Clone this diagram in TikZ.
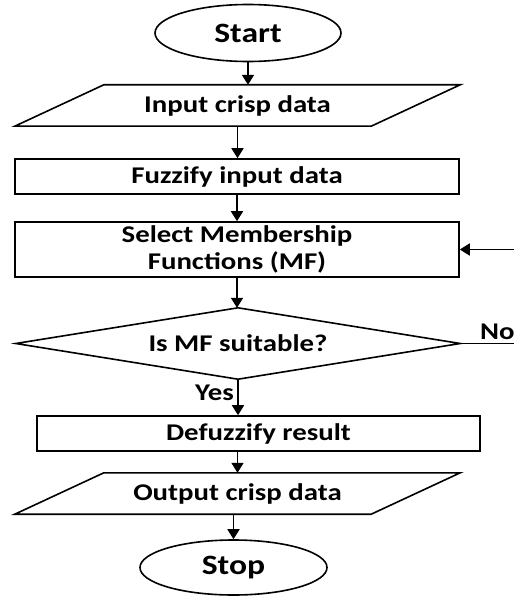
\documentclass[tikz,border=0pt]{standalone}
\usepackage{fontspec}
\setmainfont{Carlito}
\usetikzlibrary{shapes.geometric,arrows.meta,calc}
\newcommand{\sx}[1]{\scalebox{1.2}[1]{#1}}
\begin{document}
\begin{tikzpicture}[x=1pt,y=-1pt,
  every node/.style={font=\bfseries\fontsize{24}{27}\selectfont, inner sep=0pt},
  bigtext/.style={font=\bfseries\fontsize{28}{30}\selectfont},
  boxstyle/.style={draw, line width=1.6pt, rectangle},
  term/.style={draw, line width=1.6pt, ellipse, bigtext},
  iobox/.style={rectangle},
  outline/.style={line width=1.6pt},
  arr/.style={line width=1.8pt, -{Triangle[width=12pt,length=10pt]}},
  plain/.style={line width=1.8pt}]
\useasboundingbox (0,0) rectangle (514,596);
\node[term, minimum width=186pt, minimum height=57pt] (start) at (248,33) {\sx{Start}};
\node[iobox, minimum width=356pt, minimum height=41pt] (in) at (237.5,105.5) {\sx{Input crisp data}};
\draw[outline] ($(in.south west)+(-44.5,0)$) -- ($(in.south east)+(-44.5,0)$) -- ($(in.north east)+(44.5,0)$) -- ($(in.north west)+(44.5,0)$) -- cycle;
\node[boxstyle, minimum width=444pt, minimum height=35pt] (fuzz) at (237,176.5) {\sx{Fuzzify input data}};
\node[boxstyle, minimum width=444pt, minimum height=55pt, align=center] (sel) at (237,249.5) {\sx{Select Membership}\\\sx{Functions (MF)}};
\node[iobox, minimum width=444pt, minimum height=71pt] (dia) at (238,343.5) {\sx{Is MF suitable?}};
\draw[outline] (dia.north) -- (dia.east) -- (dia.south) -- (dia.west) -- cycle;
\node[boxstyle, minimum width=443pt, minimum height=35pt] (def) at (258.5,433.5) {\sx{Defuzzify result}};
\node[iobox, minimum width=356pt, minimum height=41pt] (out) at (237.5,493.5) {\sx{Output crisp data}};
\draw[outline] ($(out.south west)+(-44.5,0)$) -- ($(out.south east)+(-44.5,0)$) -- ($(out.north east)+(44.5,0)$) -- ($(out.north west)+(44.5,0)$) -- cycle;
\node[term, minimum width=187pt, minimum height=55pt] (stop) at (233.5,567.5) {\sx{Stop}};
\coordinate (noend) at (514,343.5);
\coordinate (retin) at (514,249.5);
\node[anchor=west] (nolab) at (480,332) {\sx{No}};
\node[anchor=east] (yeslab) at (234,393) {\sx{Yes}};
\draw[arr] (start.south) -- (start.south |- in.north);
\draw[arr] (in.south) -- (in.south |- fuzz.north);
\draw[arr] (fuzz.south) -- (fuzz.south |- sel.north);
\draw[arr] (sel.south) -- (sel.south |- dia.north);
\draw[arr] (dia.south) -- (dia.south |- def.north);
\draw[arr] (out.north |- def.south) -- (out.north);
\draw[arr] (stop.north |- out.south) -- (stop.north);
\draw[plain] (dia.east) -- (noend);
\draw[arr] (retin) -- (sel.east);
\end{tikzpicture}
\end{document}
